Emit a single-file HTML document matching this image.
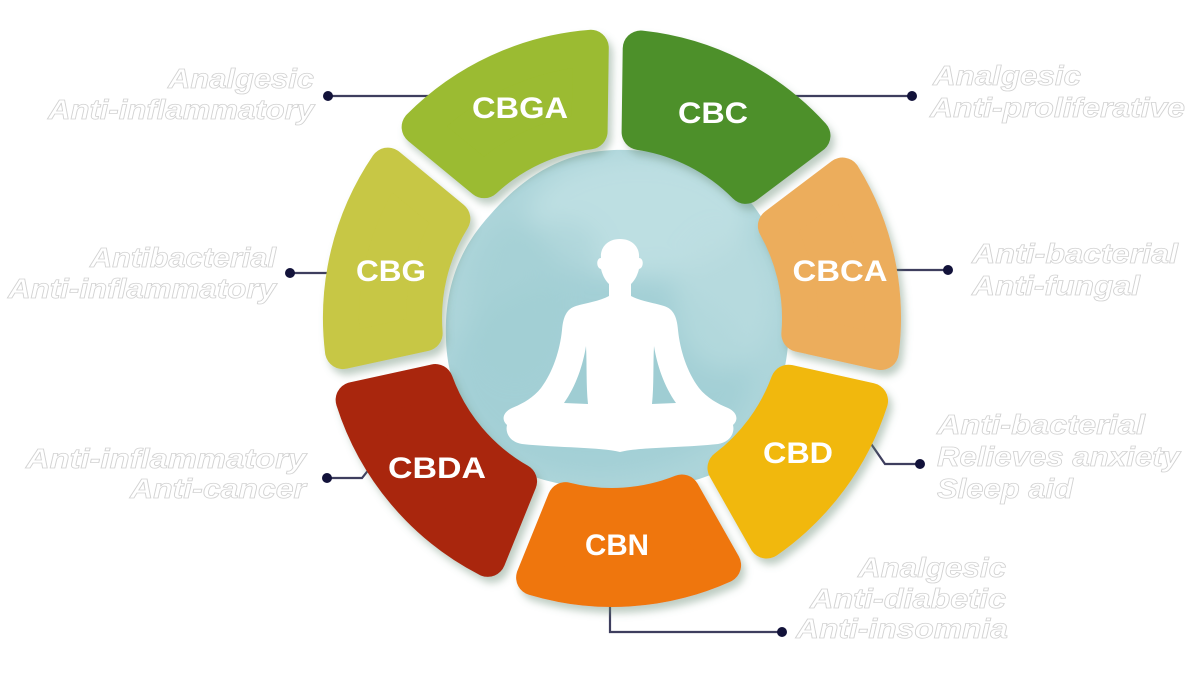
<!DOCTYPE html>
<html><head><meta charset="utf-8"><style>
html,body{margin:0;padding:0;background:#fff;}
svg{display:block;}
.lab{font-family:"Liberation Sans",sans-serif;font-weight:bold;font-style:italic;font-size:28px;fill:#fff;stroke:#d2d2d2;stroke-width:0.8;}
.seg{font-family:"Liberation Sans",sans-serif;font-weight:bold;font-size:30px;fill:#fff;text-anchor:middle;}
</style></head><body>
<svg width="1200" height="684" viewBox="0 0 1200 684" xmlns="http://www.w3.org/2000/svg">
<defs>
 <filter id="sh" x="-20%" y="-20%" width="140%" height="140%">
  <feDropShadow dx="4" dy="6" stdDeviation="4" flood-color="#6f8f78" flood-opacity="0.45"/>
 </filter>
 <filter id="bl" x="-50%" y="-50%" width="200%" height="200%"><feGaussianBlur stdDeviation="12"/></filter>
 <clipPath id="cc"><path d="M614,150 C680,148 735,175 760,215 C785,250 792,300 788,345 C783,400 760,440 720,470 C680,495 560,495 520,470 C475,440 448,395 446,340 C444,290 458,250 490,215 C520,180 560,152 614,150 Z"/></clipPath>
</defs>

<!-- connectors -->
<g stroke="#3e3e5e" stroke-width="2.2" fill="none">
 <path d="M328 96 H445"/>
 <path d="M780 96 H912"/>
 <path d="M290 273 H345"/>
 <path d="M875 270 H948"/>
 <path d="M327 478 H362 L374 463"/>
 <path d="M858 425 L885 464 H920"/>
 <path d="M610 585 V632 H782"/>
</g>
<g fill="#12123a">
 <circle cx="328" cy="96" r="5"/>
 <circle cx="912" cy="96" r="5"/>
 <circle cx="290" cy="273" r="5"/>
 <circle cx="948" cy="270" r="5"/>
 <circle cx="327" cy="478" r="5"/>
 <circle cx="920" cy="464" r="5"/>
 <circle cx="782" cy="632" r="5"/>
</g>

<!-- watercolor blob -->
<g clip-path="url(#cc)">
 <rect x="430" y="140" width="370" height="370" fill="#add5da"/>
 <g filter="url(#bl)">
  <ellipse cx="600" cy="375" rx="150" ry="100" fill="#9ccbd2" opacity="0.6"/>
  <ellipse cx="640" cy="215" rx="110" ry="60" fill="#c3e2e5" opacity="0.7"/>
  <ellipse cx="515" cy="300" rx="45" ry="80" fill="#a2ced4" opacity="0.6"/>
  <ellipse cx="725" cy="300" rx="50" ry="70" fill="#bcdde1" opacity="0.6"/>
  <ellipse cx="560" cy="250" rx="40" ry="30" fill="#a6d0d6" opacity="0.5"/>
 </g>
</g>

<!-- segments -->
<g filter="url(#sh)" stroke-width="36" stroke-linejoin="round">
 <path transform="rotate(335.15 612 318)" fill="#9bbb30" stroke="#9bbb30" d="M517.7,63.9 A271,271 0 0 1 706.3,63.9 L670.1,139.2 A188,188 0 0 0 553.9,139.2 Z"/>
 <path transform="rotate(26.9 612 318)" fill="#4e902c" stroke="#4e902c" d="M515.7,64.7 A271,271 0 0 1 708.3,64.7 L671.5,139.7 A188,188 0 0 0 552.5,139.7 Z"/>
 <path transform="rotate(77.75 612 318)" fill="#ecad5b" stroke="#ecad5b" d="M521.7,62.5 A271,271 0 0 1 702.3,62.5 L667.3,138.3 A188,188 0 0 0 556.7,138.3 Z"/>
 <path transform="rotate(126.5 612 318)" fill="#f1b80c" stroke="#f1b80c" d="M525.1,61.3 A271,271 0 0 1 698.9,61.3 L665.0,137.6 A188,188 0 0 0 559.0,137.6 Z"/>
 <path transform="rotate(176.25 612 318)" fill="#ef7609" stroke="#ef7609" d="M517.3,64.1 A271,271 0 0 1 706.7,64.1 L670.4,139.3 A188,188 0 0 0 553.6,139.3 Z"/>
 <path transform="rotate(229.85 612 318)" fill="#a9260b" stroke="#a9260b" d="M508.0,67.7 A271,271 0 0 1 716.0,67.7 L677.0,141.6 A188,188 0 0 0 547.0,141.6 Z"/>
 <path transform="rotate(283.6 612 318)" fill="#c7c744" stroke="#c7c744" d="M516.6,64.3 A271,271 0 0 1 707.4,64.3 L670.9,139.5 A188,188 0 0 0 553.1,139.5 Z"/>
</g>

<!-- meditating figure -->
<path fill="#ffffff" d="M620,239 C607,239 600,248 601,258 C596,258 596,268 601,269 C603,277 606,281 609,284 L609,296 C600,301 586,303 576,306 C566,309 563,318 562,330 C560,350 553,372 541,388 C533,398 522,404 512,408 C503,412 501,420 507,425 C505,433 510,442 522,444 C560,448 600,447 620,452 C640,447 680,448 718,444 C730,442 735,433 733,425 C739,420 737,412 728,408 C718,404 707,398 699,388 C687,372 680,350 678,330 C677,318 674,309 664,306 C654,303 640,301 631,296 L631,284 C634,281 637,277 639,269 C644,268 644,258 639,258 C640,248 633,239 620,239 Z"/>
<path fill="#9fcdd3" d="M586,346 C583,365 576,386 564,403 L588,404 C586,385 587,365 586,346 Z"/>
<path fill="#9fcdd3" d="M654,346 C657,365 664,386 676,403 L652,404 C654,385 653,365 654,346 Z"/>

<!-- segment labels -->
<text class="seg" x="520" y="118" textLength="96" lengthAdjust="spacingAndGlyphs">CBGA</text>
<text class="seg" x="713" y="123" textLength="70" lengthAdjust="spacingAndGlyphs">CBC</text>
<text class="seg" x="391" y="281" textLength="70" lengthAdjust="spacingAndGlyphs">CBG</text>
<text class="seg" x="840" y="281" textLength="95" lengthAdjust="spacingAndGlyphs">CBCA</text>
<text class="seg" x="437" y="478" textLength="98" lengthAdjust="spacingAndGlyphs">CBDA</text>
<text class="seg" x="798" y="463" textLength="70" lengthAdjust="spacingAndGlyphs">CBD</text>
<text class="seg" x="617" y="555" textLength="64" lengthAdjust="spacingAndGlyphs">CBN</text>

<!-- outer labels -->
<g class="lab" text-anchor="end">
 <text x="314" y="88" textLength="146" lengthAdjust="spacingAndGlyphs">Analgesic</text>
 <text x="314" y="119" textLength="266" lengthAdjust="spacingAndGlyphs">Anti-inflammatory</text>
 <text x="276" y="267" textLength="186" lengthAdjust="spacingAndGlyphs">Antibacterial</text>
 <text x="276" y="298" textLength="268" lengthAdjust="spacingAndGlyphs">Anti-inflammatory</text>
 <text x="306" y="468" textLength="280" lengthAdjust="spacingAndGlyphs">Anti-inflammatory</text>
 <text x="306" y="498" textLength="176" lengthAdjust="spacingAndGlyphs">Anti-cancer</text>
 <text x="1006" y="577" textLength="148" lengthAdjust="spacingAndGlyphs">Analgesic</text>
 <text x="1006" y="608" textLength="196" lengthAdjust="spacingAndGlyphs">Anti-diabetic</text>
 <text x="1008" y="638" textLength="212" lengthAdjust="spacingAndGlyphs">Anti-insomnia</text>
</g>
<g class="lab" text-anchor="start">
 <text x="933" y="85" textLength="148" lengthAdjust="spacingAndGlyphs">Analgesic</text>
 <text x="930" y="117" textLength="255" lengthAdjust="spacingAndGlyphs">Anti-proliferative</text>
 <text x="972" y="263" textLength="206" lengthAdjust="spacingAndGlyphs">Anti-bacterial</text>
 <text x="972" y="295" textLength="168" lengthAdjust="spacingAndGlyphs">Anti-fungal</text>
 <text x="937" y="434" textLength="208" lengthAdjust="spacingAndGlyphs">Anti-bacterial</text>
 <text x="937" y="466" textLength="243" lengthAdjust="spacingAndGlyphs">Relieves anxiety</text>
 <text x="937" y="498" textLength="136" lengthAdjust="spacingAndGlyphs">Sleep aid</text>
</g>
</svg>
</body></html>
